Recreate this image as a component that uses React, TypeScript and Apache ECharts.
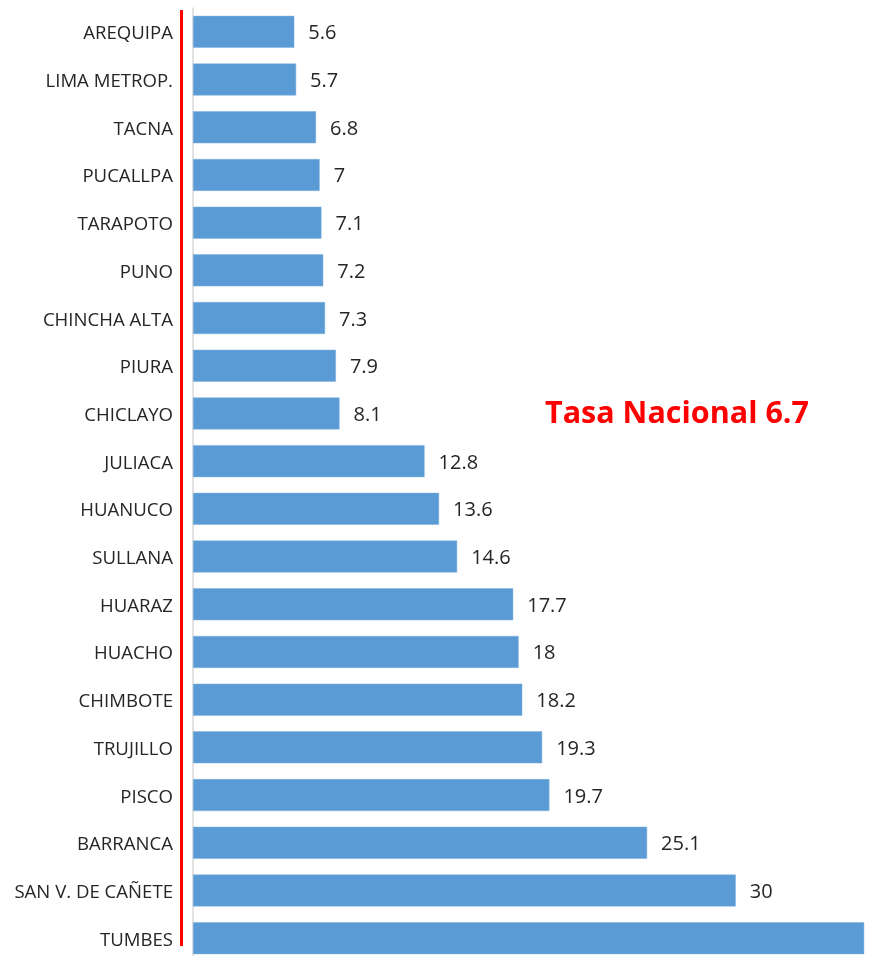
import React, { useEffect, useRef } from "react";
import * as echarts from "echarts";

const categories = [
  "AREQUIPA", "LIMA METROP.", "TACNA", "PUCALLPA", "TARAPOTO", "PUNO", "CHINCHA ALTA",
  "PIURA", "CHICLAYO", "JULIACA", "HUANUCO", "SULLANA", "HUARAZ", "HUACHO",
  "CHIMBOTE", "TRUJILLO", "PISCO", "BARRANCA", "SAN V. DE CAÑETE", "TUMBES",
];
const values = [5.6, 5.7, 6.8, 7, 7.1, 7.2, 7.3, 7.9, 8.1, 12.8, 13.6, 14.6, 17.7, 18, 18.2, 19.3, 19.7, 25.1, 30, 37.1];
const hiddenLabels = ["TUMBES"];
const titleText = "Tasa Nacional 6.7";

export default function App() {
  const ref = useRef<HTMLDivElement>(null);
  useEffect(() => {
    if (!ref.current) return;
    const chart = echarts.init(ref.current, null, { renderer: "svg" });
    const font = "'Open Sans', 'Noto Sans', sans-serif";
    chart.setOption({
      animation: false,
      grid: { left: 193, top: 8, width: 673, height: 954, containLabel: false },
      xAxis: {
        type: "value",
        min: 0,
        max: 37.2,
        show: false,
      },
      yAxis: {
        type: "category",
        inverse: true,
        data: categories,
        axisLine: { show: true, lineStyle: { color: "#d9d9d9", width: 1.5 } },
        axisTick: { show: false },
        axisLabel: { color: "#262626", fontSize: 18.6, fontFamily: font, margin: 20 },
      },
      series: [
        {
          type: "bar",
          barCategoryGap: "33%",
          data: values.map((v, i) => ({
            value: v,
            label: { show: !hiddenLabels.includes(categories[i]) },
          })),
          itemStyle: { color: "#5B9BD5", borderColor: "#7fb0de", borderWidth: 0.5 },
          label: {
            show: true,
            position: "right",
            distance: 14,
            color: "#262626",
            fontSize: 20,
            fontFamily: font,
          },
        },
      ],
      graphic: [
        {
          type: "rect",
          shape: { x: 180, y: 10, width: 3, height: 936 },
          style: { fill: "#ff0000" },
        },
        {
          type: "text",
          x: 545,
          y: 411,
          style: {
            text: titleText,
            fill: "#ff0000",
            fontSize: 30.5,
            fontWeight: "bold",
            fontFamily: font,
            verticalAlign: "middle",
          },
        },
      ],
    });
    return () => chart.dispose();
  }, []);
  return (
    <div
      ref={ref}
      style={{ position: "fixed", left: 0, top: 0, width: 878, height: 966 }}
    />
  );
}
